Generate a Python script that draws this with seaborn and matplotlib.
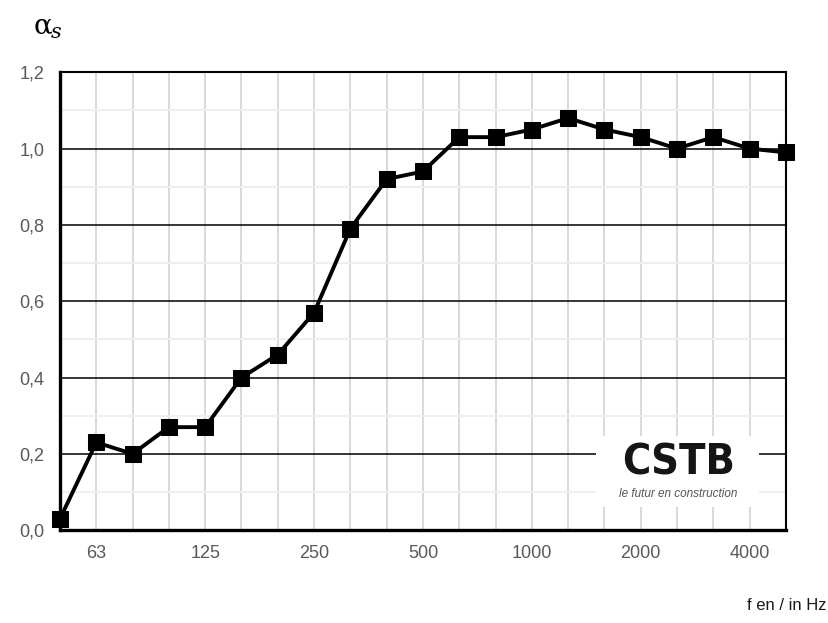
import numpy as np
import pandas as pd
import seaborn as sns
import matplotlib.pyplot as plt
from matplotlib.patches import Rectangle

# third-octave bands, 50 Hz .. 5000 Hz
freqs = [50, 63, 80, 100, 125, 160, 200, 250, 315, 400, 500,
         630, 800, 1000, 1250, 1600, 2000, 2500, 3150, 4000, 5000]
alpha_s = [0.03, 0.23, 0.20, 0.27, 0.27, 0.40, 0.46, 0.57, 0.79, 0.92, 0.94,
           1.03, 1.03, 1.05, 1.08, 1.05, 1.03, 1.00, 1.03, 1.00, 0.99]
labelled = [63, 125, 250, 500, 1000, 2000, 4000]

df = pd.DataFrame({'f': freqs, 'alpha': alpha_s})
df['pos'] = np.arange(len(df))

sns.set_style('white')
plt.rcParams['font.family'] = ['Liberation Sans', 'DejaVu Sans']

fig = plt.figure(figsize=(8.29, 6.23), dpi=100)
ax = fig.add_axes([0.0724, 0.149, 0.8756, 0.735])

sns.lineplot(data=df, x='pos', y='alpha', marker='s', color='black',
             linewidth=2.8, markersize=11.5, markeredgecolor='black', ax=ax,
             zorder=5, clip_on=False)

ax.set_xlim(0, len(df) - 1)
ax.set_ylim(0, 1.2)

# grid
for p in df['pos']:
    ax.axvline(p, color='#d9d9d9', lw=1.4, zorder=1)
for y in np.arange(0.1, 1.2, 0.2):
    ax.axhline(y, color='#efefef', lw=1.4, zorder=1)
for y in np.arange(0.2, 1.2, 0.2):
    ax.axhline(y, color='black', lw=1.1, zorder=2)

yt = np.round(np.arange(0, 1.21, 0.2), 1)
ax.set_yticks(yt)
ax.set_yticklabels([f'{v:.1f}'.replace('.', ',') for v in yt],
                   color='#595959', fontsize=13)
pos_lab = [freqs.index(f) for f in labelled]
ax.set_xticks(pos_lab)
ax.set_xticklabels([str(f) for f in labelled], color='#595959', fontsize=13)
ax.tick_params(axis='both', length=0, pad=11)
ax.set_xlabel('')
ax.set_ylabel('')

for side in ['left', 'bottom']:
    ax.spines[side].set_linewidth(2.4)
    ax.spines[side].set_color('black')
for side in ['top', 'right']:
    ax.spines[side].set_linewidth(1.5)
    ax.spines[side].set_color('black')

# logo box
ax.add_patch(Rectangle((0.738, 0.05), 0.225, 0.155, transform=ax.transAxes,
                       facecolor='white', edgecolor='none', zorder=3))
ax.text(0.852, 0.148, 'CSTB', transform=ax.transAxes, ha='center', va='center',
        fontsize=31, fontweight='heavy', color='#151515', zorder=4,
        family='DejaVu Sans', fontstretch='condensed')
ax.text(0.852, 0.079, 'le futur en construction', transform=ax.transAxes,
        ha='center', va='center', fontsize=8.5, style='italic',
        color='#555555', zorder=4)

fig.text(0.040, 0.958, 'α', fontsize=20, color='black', family='DejaVu Serif',
         ha='left', va='center')
fig.text(0.061, 0.948, 's', fontsize=15, color='black', family='DejaVu Serif',
         style='italic', ha='left', va='center')
fig.text(0.997, 0.016, 'f en / in Hz', fontsize=12, color='#1a1a1a',
         ha='right', va='bottom')

fig.savefig('out.png', dpi=100)
